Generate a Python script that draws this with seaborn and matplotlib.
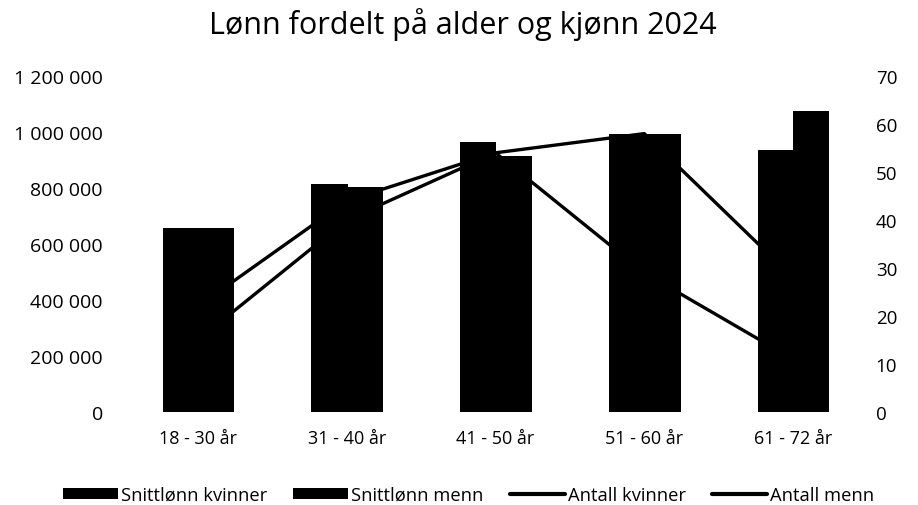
import numpy as np
import pandas as pd
import matplotlib
matplotlib.use("Agg")
import matplotlib.pyplot as plt
import seaborn as sns
from matplotlib.ticker import FuncFormatter, MultipleLocator
from matplotlib.patches import Patch
from matplotlib.lines import Line2D

# ---- data ----
categories = ["18 - 30 år", "31 - 40 år", "41 - 50 år", "51 - 60 år", "61 - 72 år"]
snitt_kvinner = [658000, 815000, 963000, 993000, 936000]
snitt_menn = [658000, 805000, 914000, 993000, 1075000]
antall_kvinner = [15, 40, 54, 29, 11]
antall_menn = [22, 44, 54, 58, 28]
series_bar = ["Snittlønn kvinner", "Snittlønn menn"]
series_line = ["Antall kvinner", "Antall menn"]
title = "Lønn fordelt på alder og kjønn 2024"

sns.set_style("white")
plt.rcParams["font.family"] = ["Open Sans", "DejaVu Sans"]
plt.rcParams["text.color"] = "black"

fig = plt.figure(figsize=(9.18, 5.06), dpi=100)
ax = fig.add_axes([123.6 / 918, 93 / 506, (867.4 - 123.6) / 918, 336 / 506])

df_bar = pd.DataFrame({
    "Alder": categories * 2,
    "Verdi": snitt_kvinner + snitt_menn,
    "Serie": [series_bar[0]] * len(categories) + [series_bar[1]] * len(categories),
})
sns.barplot(data=df_bar, x="Alder", y="Verdi", hue="Serie", hue_order=series_bar,
            palette=["black", "black"], saturation=1, width=0.475,
            edgecolor="black", linewidth=0.6, ax=ax, legend=False)
for p in ax.patches:
    p.set_antialiased(False)

ax.set_xlim(-0.5, 4.5)
ax.set_ylim(0, 1200000)
ax.yaxis.set_major_locator(MultipleLocator(200000))
ax.yaxis.set_major_formatter(FuncFormatter(lambda v, p: f"{int(v):,}".replace(",", " ")))
ax.set_xlabel("")
ax.set_ylabel("")

ax2 = ax.twinx()
df_line = pd.DataFrame({
    "Alder": categories * 2,
    "Antall": antall_kvinner + antall_menn,
    "Serie": [series_line[0]] * len(categories) + [series_line[1]] * len(categories),
})
sns.lineplot(data=df_line, x="Alder", y="Antall", hue="Serie", hue_order=series_line,
             palette=["black", "black"], linewidth=2.4, sort=False, ax=ax2, legend=False)
ax2.set_ylim(0, 70)
ax2.yaxis.set_major_locator(MultipleLocator(10))
ax2.set_xlim(-0.5, 4.5)
ax2.set_ylabel("")
ax2.set_xlabel("")

for a in (ax, ax2):
    for s in a.spines.values():
        s.set_visible(False)
    a.grid(False)

ax.tick_params(axis="y", length=0, pad=15, labelsize=14, labelcolor="black")
ax.tick_params(axis="x", length=0, pad=12, labelsize=13, labelcolor="black")
ax2.tick_params(axis="y", length=0, pad=6, labelsize=13.5, labelcolor="black")

fig.text(463 / 918, 1 - 34 / 506, title, ha="center", va="baseline", fontsize=22)

handles = [Patch(facecolor="black", edgecolor="none"), Patch(facecolor="black", edgecolor="none"),
           Line2D([], [], color="black", lw=3), Line2D([], [], color="black", lw=3)]
fig.legend(handles, series_bar + series_line, loc="center",
           bbox_to_anchor=(468.5 / 918, 1 - 496 / 506), ncol=4, frameon=False,
           handlelength=3.0, handleheight=0.6, handletextpad=0.15, columnspacing=1.45,
           prop={"family": ["Open Sans", "DejaVu Sans"], "size": 13.2})

fig.savefig("out.png", dpi=100)
